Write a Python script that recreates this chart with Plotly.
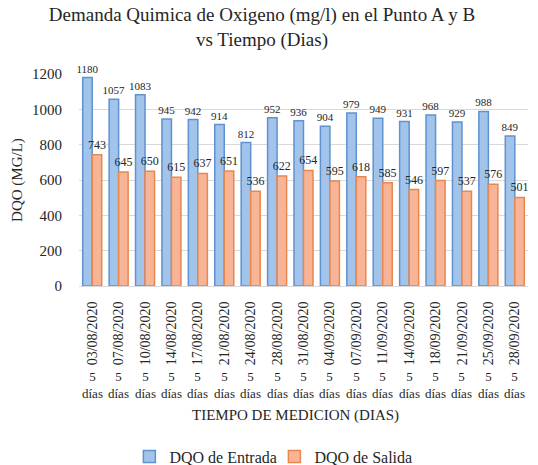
import plotly.graph_objects as go

# Fechas de medición (eje X) y valores de DQO (mg/l)
fechas = ["03/08/2020", "07/08/2020", "10/08/2020", "14/08/2020", "17/08/2020",
          "21/08/2020", "24/08/2020", "28/08/2020", "31/08/2020", "04/09/2020",
          "07/09/2020", "11/09/2020", "14/09/2020", "18/09/2020", "21/09/2020",
          "25/09/2020", "28/09/2020"]
intervalos = ["5 días", "5 días", "5 días", "5 días", "5 días", "5 días",
              "5 días", "5 días", "5 días", "5 días", "5 días", "5 días",
              "5 días", "5 días", "5 días", "5 días", "5 días"]
dqo_entrada = [1180, 1057, 1083, 945, 942, 914, 812, 952, 936, 904,
               979, 949, 931, 968, 929, 988, 849]
dqo_salida = [743, 645, 650, 615, 637, 651, 536, 622, 654, 595,
              618, 585, 546, 597, 537, 576, 501]

SERIF = "Liberation Serif"
TXT = "#262626"

fig = go.Figure()
fig.add_trace(go.Bar(
    x=fechas, y=dqo_entrada, name="DQO de Entrada",
    marker=dict(color="#A3C4EA", line=dict(color="#5E92D0", width=1.5)),
    text=dqo_entrada, textposition="outside", cliponaxis=False,
    constraintext="none",
    textfont=dict(family=SERIF, size=11, color=TXT),
))
fig.add_trace(go.Bar(
    x=fechas, y=dqo_salida, name="DQO de Salida",
    marker=dict(color="#F8B496", line=dict(color="#E8874E", width=1.5)),
    text=dqo_salida, textposition="outside", cliponaxis=False,
    constraintext="none",
    textfont=dict(family=SERIF, size=12, color=TXT),
))

# Segunda fila de etiquetas del eje de categorías: intervalo entre mediciones
for f, t in zip(fechas, intervalos):
    fig.add_annotation(
        x=f, xref="x", y=-0.38, yref="paper", yanchor="top",
        text=t.replace(" ", "<br>"), showarrow=False,
        font=dict(family=SERIF, size=13, color=TXT), align="center",
    )

fig.add_annotation(
    x=0.483, xref="paper", y=-0.61, yref="paper", yanchor="middle",
    text="TIEMPO DE MEDICION (DIAS)", showarrow=False,
    font=dict(family=SERIF, size=15, color=TXT),
)

fig.update_layout(
    width=538, height=465,
    margin=dict(l=79, r=10, t=74, b=179),
    paper_bgcolor="white", plot_bgcolor="white",
    barmode="group", bargap=0.28, bargroupgap=0.0,
    title=dict(
        text="Demanda Quimica de Oxigeno (mg/l) en el Punto A y B<br>vs Tiempo (Dias)",
        x=0.487, xanchor="center", y=0.955, yanchor="middle",
        font=dict(family=SERIF, size=19, color=TXT),
    ),
    font=dict(family=SERIF, color=TXT),
    xaxis=dict(
        type="category", tickangle=-90, showgrid=False,
        showline=True, linecolor="#D9D9D9", ticks="",
        ticklabelstandoff=9,
        tickfont=dict(family=SERIF, size=14, color=TXT),
    ),
    yaxis=dict(
        range=[0, 1200], dtick=200, showgrid=True, gridcolor="#D9D9D9",
        zeroline=False, showline=False, ticks="",
        ticklabelstandoff=16,
        tickfont=dict(family=SERIF, size=15, color=TXT),
        title=dict(text="DQO (MG/L)", font=dict(family=SERIF, size=15, color=TXT),
                   standoff=5),
    ),
    legend=dict(
        orientation="h", xref="container", yref="container",
        x=0.51, xanchor="center", y=0.018, yanchor="middle",
        font=dict(family=SERIF, size=16, color=TXT),
        itemwidth=30, entrywidth=100, entrywidthmode="pixels",
        traceorder="normal",
    ),
)

fig.write_html("out.html")
